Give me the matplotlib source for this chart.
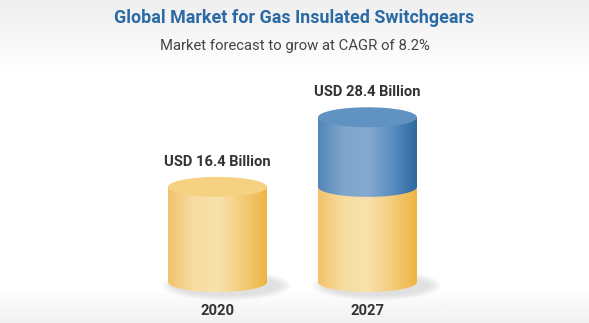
import matplotlib
matplotlib.use("Agg")
import matplotlib.pyplot as plt
import numpy as np
from matplotlib.patches import Ellipse, PathPatch
from matplotlib.path import Path
from matplotlib.colors import LinearSegmentedColormap

plt.rcParams['font.family'] = ['Roboto', 'DejaVu Sans']

# data
years = ['2020', '2027']
base_values = [16.4, 16.4]      # yellow part (2020 level)
total_values = [16.4, 28.4]
value_labels = ['USD 16.4 Billion', 'USD 28.4 Billion']
title = 'Global Market for Gas Insulated Switchgears'
subtitle = 'Market forecast to grow at CAGR of 8.2%'

yellow_cmap = LinearSegmentedColormap.from_list(
    'yel', ['#f2c36a', '#f7dca0', '#f8e1ad', '#f4cd7c', '#eeb443'])
blue_cmap = LinearSegmentedColormap.from_list(
    'blu', ['#5285b8', '#7ea5cc', '#86abd0', '#5a8ebf', '#2d699e'])
yellow_top = '#f5d282'
blue_top = '#6093c2'

W, H = 589, 323
fig = plt.figure(figsize=(W / 100, H / 100), dpi=100)

# background gradient
bg = fig.add_axes([0, 0, 1, 1], zorder=0)
yy = np.linspace(0, 1, 400)
shade = np.ones_like(yy)
top = yy < 0.22
shade[top] = 0.935 + 0.065 * (yy[top] / 0.22)
bot = yy > 0.89
shade[bot] = 1.0 - 0.055 * ((yy[bot] - 0.89) / 0.11)
bg.imshow(np.repeat(shade[:, None], 2, axis=1), cmap='gray', vmin=0, vmax=1,
          aspect='auto', extent=[0, 1, 1, 0])
bg.set_xlim(0, 1)
bg.set_ylim(1, 0)
bg.axis('off')

ax = fig.add_axes([0, 0, 1, 1], zorder=1)
ax.patch.set_alpha(0)
px_unit = 5.8          # pixels per billion
x_px = 150.0           # pixels per category step
x0_px, y0_px = 217.5, 282.0
ax.set_xlim(-x0_px / x_px, (W - x0_px) / x_px)
ax.set_ylim(-(H - y0_px) / px_unit, y0_px / px_unit)
ax.axis('off')

cw = 0.66                      # cylinder width in category units
eh = 2 * 10.0 / px_unit        # ellipse height in value units


def body_path(xc, y_lo, y_hi):
    t = np.linspace(0, np.pi, 60)
    bx = xc + cw / 2 * np.cos(t)
    by = y_lo - eh / 2 * np.sin(t)
    xs = np.concatenate([[xc - cw / 2, xc + cw / 2], bx])
    ys = np.concatenate([[y_hi, y_hi], by])
    return Path(np.column_stack([xs, ys]), closed=False)


def draw_segment(xc, y_lo, y_hi, cmap, top_color, z):
    grad = np.linspace(0, 1, 256)[None, :]
    im = ax.imshow(grad, cmap=cmap, aspect='auto', zorder=z,
                   extent=[xc - cw / 2, xc + cw / 2, y_lo - eh, y_hi + eh])
    clip = PathPatch(body_path(xc, y_lo, y_hi), transform=ax.transData)
    im.set_clip_path(clip)
    ax.add_patch(Ellipse((xc, y_hi), cw, eh, facecolor=top_color,
                         edgecolor='none', zorder=z + 0.5))


texts = []   # (text, target width in px)
for i, yr in enumerate(years):
    # soft shadow to the right of the base
    for k in range(6):
        ax.add_patch(Ellipse((i + 0.06, -0.6), cw + 0.05 + k * 0.03, eh + k * 0.35,
                             facecolor='#9a9a9a', edgecolor='none', alpha=0.05,
                             zorder=1.5))
    draw_segment(i, 0, base_values[i], yellow_cmap, yellow_top, 2)
    if total_values[i] > base_values[i]:
        draw_segment(i, base_values[i], total_values[i], blue_cmap, blue_top, 3)
    t = ax.text(i, total_values[i] + eh / 2 + 1.9, value_labels[i], ha='center',
                va='baseline', fontsize=10.5, fontweight='bold', color='#333333')
    texts.append((t, 107))
    t = ax.text(i, -(315 - y0_px) / px_unit, yr, ha='center', va='baseline',
                fontsize=10.5, fontweight='bold', color='#333333')
    texts.append((t, 34))

t = fig.text(0.5, 1 - 23 / H, title, ha='center', va='baseline', fontsize=12.5,
             fontweight='bold', color='#2b6aa3')
texts.append((t, 359))
t = fig.text(0.5, 1 - 50 / H, subtitle, ha='center', va='baseline', fontsize=10.5,
             color='#444444')
texts.append((t, 270))

# scale font sizes so text widths match the reference
fig.canvas.draw()
r = fig.canvas.get_renderer()
for t, target in texts:
    w = t.get_window_extent(r).width
    t.set_fontsize(t.get_fontsize() * target / w)

fig.savefig('out.png', dpi=100)
